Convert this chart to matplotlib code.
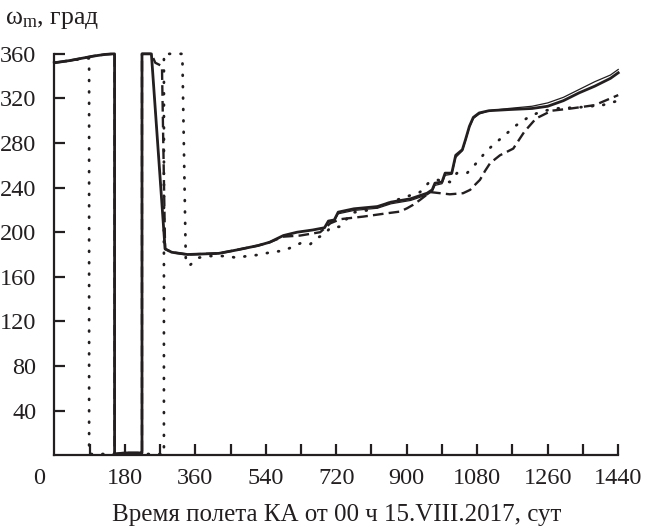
import numpy as np
import matplotlib
matplotlib.use("Agg")
import matplotlib.pyplot as plt

plt.rcParams['font.family'] = ['Liberation Serif', 'DejaVu Serif']
plt.rcParams['mathtext.fontset'] = 'custom'
plt.rcParams['mathtext.rm'] = 'Liberation Serif'
plt.rcParams['mathtext.it'] = 'Liberation Serif:italic'

# thick solid curve
a_x = [0, 20, 40, 70, 100, 130, 150, 154, 154, 180, 222, 224, 224, 248, 283, 300, 340, 420,
       465, 520, 550, 585, 620, 660, 690, 700, 715, 725, 765, 825, 860, 910, 952, 965, 972,
       990, 998, 1015, 1025, 1042, 1050, 1060, 1070, 1085, 1110, 1160, 1220, 1260, 1300,
       1340, 1380, 1420, 1440]
a_y = [352, 353, 354, 356, 358, 359.5, 360, 360, 1, 2, 2, 2, 360, 360, 185, 182, 180, 181,
       184, 188, 191, 197, 200, 202, 204, 210, 211, 218, 221, 223, 227, 230, 235, 238, 244,
       245, 253, 253, 269, 274, 283, 295, 303, 307, 309, 310, 311, 313, 318, 325, 331, 338, 343]

# thin solid curve
b_x = [0, 20, 40, 70, 100, 130, 150, 154, 154, 180, 222, 224, 224, 248, 283, 300, 340, 420,
       465, 520, 550, 585, 620, 660, 690, 700, 715, 725, 765, 825, 860, 910, 952, 965, 972,
       990, 998, 1015, 1025, 1042, 1050, 1060, 1070, 1085, 1110, 1160, 1220, 1260, 1300,
       1340, 1380, 1420, 1440]
b_y = [352, 353, 354, 356, 358, 359.5, 360, 360, 1, 2, 2, 2, 360, 360, 185, 182, 180, 181,
       184, 188, 191, 197, 200, 202, 204, 209, 210, 216.5, 219.5, 221.5, 225.5, 228.5, 233.5,
       236.5, 242, 243.5, 251, 252, 267, 273, 282, 294, 302, 306, 309, 311, 313, 316, 321,
       328, 335, 341, 346]

# dashed curve
c_x = [0, 20, 40, 70, 100, 130, 150, 154, 154, 180, 222, 224, 224, 248, 258, 275, 283, 300,
       340, 420, 465, 520, 550, 585, 628, 679, 705, 730, 738, 789, 850, 883, 901, 916, 934,
       960, 1010, 1044, 1062, 1070, 1087, 1100, 1113, 1138, 1172, 1200, 1230, 1270, 1320,
       1380, 1440]
c_y = [352, 353, 354, 356, 358, 359.5, 360, 360, 1, 2, 2, 2, 360, 360, 352, 349, 185, 182,
       180, 181, 184, 188, 191, 196, 197, 200, 208, 211.6, 212, 214, 217, 218.5, 221.5, 224.5,
       229, 236, 234, 235, 238, 241, 247, 255, 262, 269, 275, 290, 302, 309, 311, 314, 323]

# dotted curve
d_x = [0, 20, 40, 70, 89, 89, 150, 200, 280, 280, 301, 327, 336, 347, 367, 393, 441, 466,
       492, 517, 538, 564, 585, 610, 628, 653, 671, 688, 705, 730, 760, 806, 875, 934, 955,
       977, 1010, 1028, 1054, 1070, 1088, 1101, 1120, 1150, 1180, 1210, 1240, 1280, 1340,
       1400, 1440]
d_y = [352, 353, 354, 355.5, 356, 1, 1, 1, 1, 360, 360, 360, 172, 170.6, 177, 178.6, 178.6,
       177, 178.6, 179.5, 181, 182.5, 183.4, 187, 190, 189, 195, 197.5, 204, 205, 217.5, 220,
       229, 236, 244, 247, 245, 253, 253, 259, 266, 272, 278, 287, 296, 303, 308, 311, 312,
       314, 318]

x_ticks = [180, 360, 540, 720, 900, 1080, 1260, 1440]
y_ticks = [40, 80, 120, 160, 200, 240, 280, 320, 360]

ink = '#231f20'

fig = plt.figure(figsize=(6.46, 5.28), dpi=100)
ax = fig.add_axes([0.084, 0.138, 0.873, 0.760])

ax.plot(d_x, d_y, color=ink, lw=2.0, linestyle=(0, (0.3, 3.8)), dash_capstyle='round', clip_on=False)
ax.plot(c_x, c_y, color=ink, lw=1.7, linestyle=(0, (4.5, 2.2)), clip_on=False)
ax.plot(b_x, b_y, color=ink, lw=0.9, clip_on=False)
ax.plot(a_x, a_y, color=ink, lw=2.0, clip_on=False)

ax.set_xlim(0, 1440)
ax.set_ylim(0, 360)
ax.spines['top'].set_visible(False)
ax.spines['right'].set_visible(False)
for s in ('left', 'bottom'):
    ax.spines[s].set_linewidth(1.6)
    ax.spines[s].set_color(ink)

ax.set_xticks(x_ticks)
ax.set_xticks(np.arange(90, 1441, 180), minor=True)
ax.set_yticks(y_ticks)
ax.tick_params(axis='both', which='both', direction='in', length=8, width=1.6, color=ink,
               labelsize=17.5, labelcolor=ink)
ax.tick_params(axis='x', pad=9)
ax.tick_params(axis='y', pad=13)

ax.annotate('0', xy=(0, 0), xycoords=('data', 'axes fraction'), xytext=(-11, -9),
            textcoords='offset points', ha='center', va='top', fontsize=17.5, color=ink)

ax.set_xlabel('Время полета КА от 00 ч 15.VIII.2017, сут', fontsize=18, color=ink, labelpad=11)
fig.text(0.008, 0.963, 'ω$_{\\mathrm{m}}$, град', fontsize=18.5, color=ink, ha='left', va='center')

fig.savefig('out.png', dpi=100)
